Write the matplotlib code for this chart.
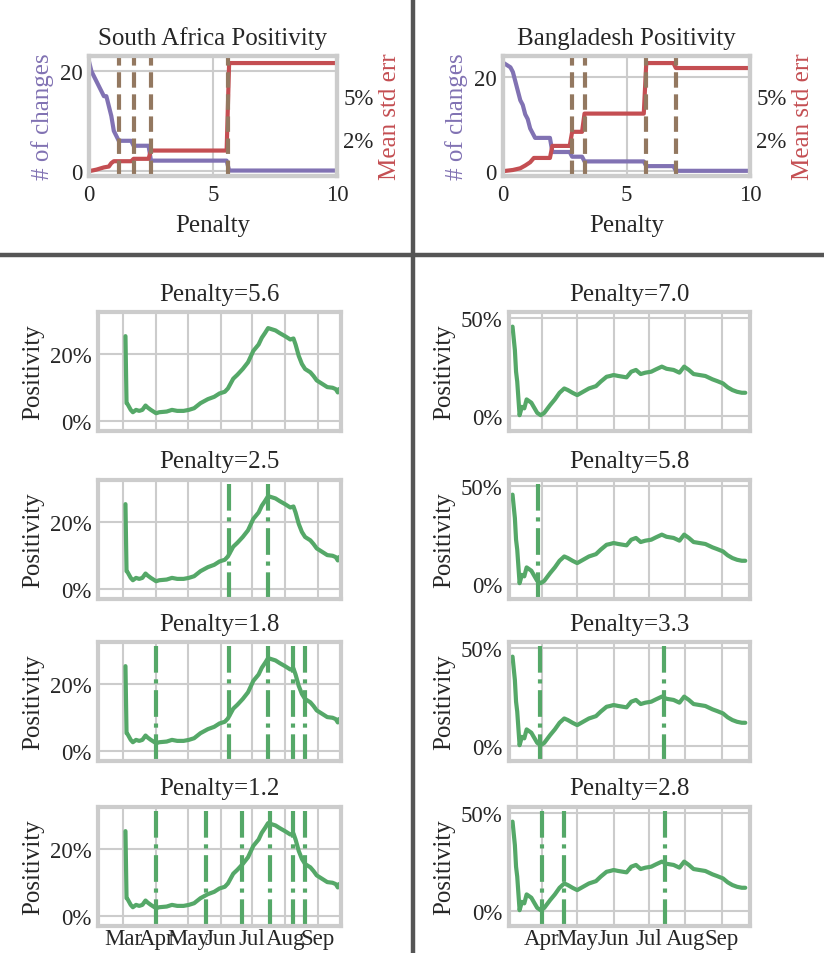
import pandas as pd
import matplotlib
matplotlib.use('Agg')
import matplotlib.pyplot as plt
import matplotlib.dates as mdates
from matplotlib.lines import Line2D
from matplotlib.ticker import PercentFormatter
import seaborn as sns

sns.set_style('whitegrid')
plt.rcParams['font.family'] = 'serif'
plt.rcParams['font.serif'] = ['Liberation Serif', 'DejaVu Serif']
plt.rcParams['axes.edgecolor'] = '.8'
plt.rcParams['axes.linewidth'] = 3
plt.rcParams['grid.linewidth'] = 1.5
plt.rcParams['axes.titlesize'] = 18
plt.rcParams['axes.titlepad'] = 9
plt.rcParams['axes.labelsize'] = 18
plt.rcParams['xtick.labelsize'] = 16.5
plt.rcParams['ytick.labelsize'] = 16.5
plt.rcParams['xtick.major.size'] = 0
plt.rcParams['ytick.major.size'] = 0
plt.rcParams['xtick.major.pad'] = 6
plt.rcParams['ytick.major.pad'] = 4.5

PURPLE = '#8172B3'
RED = '#C44E52'
GREEN = '#55A868'
BROWN = '#937860'

# penalty sweep: number of detected changes and mean std err (%)
sa_pen_changes = [0, 0.1, 0.2, 0.3, 0.4, 0.5, 0.6, 0.7, 0.8, 0.9, 1.0, 1.1, 1.2,
                  1.7, 1.8, 2.4, 2.5, 5.55, 5.65, 10]
sa_changes = [22, 20, 19, 18, 17, 16, 15, 15, 13, 11, 8, 7, 6,
              6, 5, 5, 2, 2, 0, 0]
sa_pen_err = [0, 0.3, 0.6, 0.8, 0.9, 1.0, 1.7, 1.8, 2.4, 2.5, 5.55, 5.65, 10]
sa_err = [0.63, 0.72, 0.85, 0.90, 1.10, 1.21, 1.21, 1.35, 1.35, 1.83, 1.83, 6.92, 6.92]

bd_pen_changes = [0, 0.3, 0.4, 0.5, 0.6, 0.7, 0.8, 0.9, 1.0, 1.1, 1.2, 1.3,
                  1.9, 2.0, 2.7, 2.8, 3.2, 3.3, 5.7, 5.8, 6.9, 7.0, 10]
bd_changes = [23, 22, 21, 19, 17, 15, 14, 12, 11, 9, 8, 7,
              7, 4, 4, 3, 3, 2, 2, 1, 1, 0, 0]
bd_pen_err = [0, 0.4, 0.7, 0.9, 1.1, 1.25, 1.9, 2.0, 2.7, 2.8, 3.2, 3.3, 5.7, 5.8, 6.9, 7.0, 10]
bd_err = [0.63, 0.70, 0.80, 0.96, 1.15, 1.40, 1.40, 2.10, 2.10, 2.92, 2.92, 3.98, 3.98,
          6.92, 6.92, 6.63, 6.63]

err_ticks = [2.5, 5.0]
err_ticklabels = ['2%', '5%']

# selected penalties (one panel each)
sa_penalties = [5.6, 2.5, 1.8, 1.2]
bd_penalties = [7.0, 5.8, 3.3, 2.8]

# daily positivity (%)
sa_dates = ['2020-03-03', '2020-03-04', '2020-03-05', '2020-03-08', '2020-03-10',
            '2020-03-13', '2020-03-16', '2020-03-19', '2020-03-22', '2020-03-24',
            '2020-03-27', '2020-04-01', '2020-04-04', '2020-04-11', '2020-04-16',
            '2020-04-21', '2020-04-27', '2020-05-02', '2020-05-07', '2020-05-13',
            '2020-05-20', '2020-05-26', '2020-05-31', '2020-06-05', '2020-06-08',
            '2020-06-13', '2020-06-17', '2020-06-22', '2020-06-27', '2020-07-02',
            '2020-07-07', '2020-07-10', '2020-07-13', '2020-07-16', '2020-07-19',
            '2020-07-23', '2020-07-27', '2020-08-01', '2020-08-06', '2020-08-09',
            '2020-08-11', '2020-08-14', '2020-08-17', '2020-08-20', '2020-08-25',
            '2020-08-28', '2020-08-31', '2020-09-05', '2020-09-10', '2020-09-15',
            '2020-09-18', '2020-09-20', '2020-09-21']
sa_pos = [25.4, 5.4, 5.1, 3.4, 2.7, 3.4, 3.1, 3.4, 4.7, 4.1,
          3.4, 2.4, 2.7, 2.9, 3.4, 3.1, 3.1, 3.4, 3.9, 5.4,
          6.6, 7.3, 8.3, 8.8, 9.8, 12.7, 13.9, 15.6, 17.6, 21.0,
          22.9, 24.9, 26.3, 27.8, 27.5, 27.1, 26.3, 25.4, 24.4, 24.7,
          22.9, 19.5, 17.1, 15.6, 14.6, 13.5, 12.2, 11.2, 10.2, 10.0,
          9.6, 8.6, 9.6]

bd_dates = ['2020-03-07', '2020-03-09', '2020-03-10', '2020-03-11', '2020-03-13',
            '2020-03-15', '2020-03-17', '2020-03-19', '2020-03-23', '2020-03-25',
            '2020-03-28', '2020-03-31', '2020-04-03', '2020-04-08', '2020-04-12',
            '2020-04-16', '2020-04-20', '2020-04-23', '2020-04-27', '2020-05-01',
            '2020-05-06', '2020-05-11', '2020-05-17', '2020-05-21', '2020-05-26',
            '2020-05-29', '2020-06-01', '2020-06-05', '2020-06-12', '2020-06-16',
            '2020-06-20', '2020-06-24', '2020-06-28', '2020-07-03', '2020-07-07',
            '2020-07-12', '2020-07-16', '2020-07-22', '2020-07-27', '2020-07-31',
            '2020-08-04', '2020-08-08', '2020-08-13', '2020-08-18', '2020-08-24',
            '2020-08-28', '2020-09-02', '2020-09-06', '2020-09-10', '2020-09-14',
            '2020-09-18', '2020-09-21']
bd_pos = [45.7, 33.7, 22.6, 17.5, 0.3, 4.6, 3.8, 8.4, 6.7, 4.6,
          1.5, 0.3, 1.5, 5.5, 8.4, 11.8, 14.0, 13.2, 11.8, 10.6,
          12.3, 14.0, 15.2, 17.5, 20.0, 20.4, 20.9, 20.4, 19.7, 22.6,
          23.5, 21.4, 22.1, 22.6, 23.8, 25.2, 24.1, 23.5, 22.1, 25.2,
          23.5, 21.4, 20.9, 20.4, 18.7, 17.8, 16.6, 14.6, 13.2, 12.3,
          11.8, 11.8]

# detected change points for each selected penalty
sa_changepoints = [
    [],
    ['2020-06-09', '2020-07-16'],
    ['2020-04-01', '2020-06-09', '2020-07-16', '2020-08-09', '2020-08-20'],
    ['2020-04-01', '2020-05-18', '2020-06-21', '2020-07-18', '2020-08-09', '2020-08-20'],
]
bd_changepoints = [
    [],
    ['2020-03-29'],
    ['2020-03-30', '2020-07-14'],
    ['2020-04-01', '2020-04-20', '2020-07-15'],
]

W, H = 824, 954
fig = plt.figure(figsize=(W / 100, H / 100), dpi=100)


def rect(left, top, right, bottom):
    # pixel box -> figure fraction
    return [left / W, 1 - bottom / H, (right - left) / W, (bottom - top) / H]


def penalty_panel(box, title, pen_c, changes, pen_e, errs, picks, ylim):
    ax = fig.add_axes(box)
    ax.plot(pen_c, changes, color=PURPLE, lw=3)
    ax.set_xlim(0, 10)
    ax.set_ylim(*ylim)
    ax.set_xticks([0, 5, 10])
    ax.set_yticks([0, 20])
    ax.set_xlabel('Penalty', labelpad=6)
    ax.set_ylabel('# of changes', color=PURPLE)
    ax.set_title(title)

    ax2 = ax.twinx()
    ax2.plot(pen_e, errs, color=RED, lw=3)
    for p in picks:
        ax2.axvline(p, color=BROWN, lw=3, ls='--')
    ax2.set_ylim(0.35, 7.33)
    ax2.set_yticks(err_ticks)
    ax2.set_yticklabels(err_ticklabels)
    ax2.tick_params(axis='y', length=0)
    ax2.grid(False)
    ax2.set_ylabel('Mean std err', color=RED)
    return ax


def series_panel(box, dates, vals, cps, pen, xlim, ylim, yticks, show_x, months):
    ax = fig.add_axes(box)
    ax.plot(pd.to_datetime(dates), vals, color=GREEN, lw=3)
    for d in cps:
        ax.axvline(pd.Timestamp(d), color=GREEN, lw=3, ls='-.')
    ax.set_xlim(pd.Timestamp(xlim[0]), pd.Timestamp(xlim[1]))
    ax.set_ylim(*ylim)
    ax.set_yticks(yticks)
    ax.yaxis.set_major_formatter(PercentFormatter(decimals=0))
    ax.xaxis.set_major_locator(mdates.MonthLocator(bymonth=months))
    ax.xaxis.set_major_formatter(mdates.DateFormatter('%b'))
    ax.tick_params(axis='x', labelbottom=show_x, pad=1.5)
    ax.set_ylabel('Positivity')
    ax.set_title(f'Penalty={pen:.1f}')
    return ax


penalty_panel(rect(89, 57, 337, 177), 'South Africa Positivity',
              sa_pen_changes, sa_changes, sa_pen_err, sa_err, sa_penalties, (-1.1, 23.1))
penalty_panel(rect(503, 57, 750, 177), 'Bangladesh Positivity',
              bd_pen_changes, bd_changes, bd_pen_err, bd_err, bd_penalties, (-1.1, 24.4))

tops = [313, 481, 643, 808]
for i, top in enumerate(tops):
    last = i == len(tops) - 1
    series_panel(rect(98, top, 341, top + 119), sa_dates, sa_pos, sa_changepoints[i],
                 sa_penalties[i], ('2020-02-06', '2020-09-23'), (-2.9, 32.6), [0, 20],
                 last, range(3, 10))
    series_panel(rect(509, top, 750, top + 119), bd_dates, bd_pos, bd_changepoints[i],
                 bd_penalties[i], ('2020-03-04', '2020-09-25'), (-7.8, 53.2), [0, 50],
                 last, range(4, 10))

# dividers between the four blocks
fig.add_artist(Line2D([413 / W, 413 / W], [0, 1], transform=fig.transFigure,
                      color='#555555', lw=3.2))
fig.add_artist(Line2D([0, 1], [1 - 256 / H, 1 - 256 / H], transform=fig.transFigure,
                      color='#555555', lw=3.2))

fig.savefig('out.png', dpi=100)
